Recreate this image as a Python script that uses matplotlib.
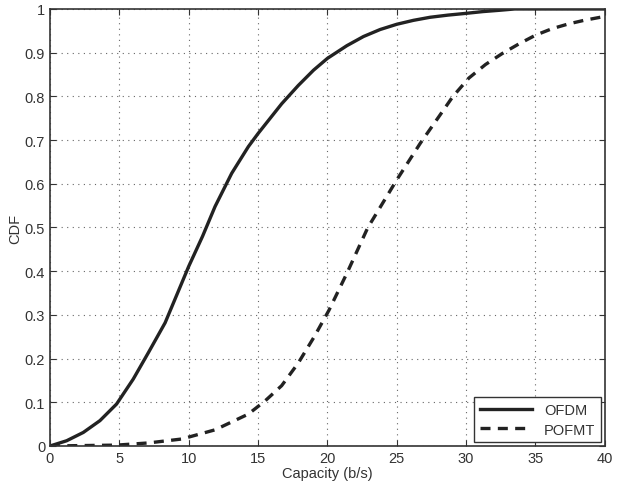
import numpy as np
import matplotlib.pyplot as plt

plt.rcParams['font.family'] = ['Liberation Sans', 'DejaVu Sans']

# OFDM capacity CDF
ofdm_x = [0, 1.2, 2.4, 3.6, 4.8, 6.0, 7.1, 8.3, 9.5, 10.0, 11.0, 11.9, 13.1,
          14.3, 15.0, 16.0, 16.7, 17.9, 19.0, 20.0, 21.4, 22.6, 23.8, 25.0,
          26.2, 27.4, 28.7, 30.0, 31.2, 32.4, 33.5, 40.0]
ofdm_y = [0.0, 0.012, 0.031, 0.058, 0.096, 0.153, 0.214, 0.282, 0.373, 0.411,
          0.48, 0.548, 0.624, 0.685, 0.715, 0.755, 0.783, 0.825, 0.86, 0.887,
          0.916, 0.937, 0.953, 0.965, 0.974, 0.981, 0.986, 0.99, 0.994, 0.997,
          1.0, 1.0]

# POFMT capacity CDF
pofmt_x = [0, 4.8, 7.1, 9.5, 11.9, 14.3, 15.5, 16.7, 17.9, 19.05, 20.1, 21.4,
           22.9, 25.0, 26.7, 28.0, 29.05, 30.2, 31.4, 32.6, 33.8, 35.0, 36.2,
           37.4, 38.5, 39.5, 40.0]
pofmt_y = [0.0, 0.002, 0.007, 0.016, 0.037, 0.073, 0.103, 0.138, 0.19, 0.25,
           0.31, 0.395, 0.499, 0.609, 0.693, 0.752, 0.80, 0.842, 0.873, 0.898,
           0.92, 0.94, 0.955, 0.966, 0.974, 0.98, 0.983]

fig = plt.figure(figsize=(6.21, 4.89), dpi=100)
ax = fig.add_axes([0.0805, 0.0859, 0.8935, 0.8937])

ax.plot(ofdm_x, ofdm_y, color='#222222', lw=2.4, label='OFDM')
ax.plot(pofmt_x, pofmt_y, color='#222222', lw=2.4, ls=(0, (3, 2.2)), label='POFMT')

ax.set_xlim(0, 40)
ax.set_ylim(0, 1)
ax.set_xticks(np.arange(0, 41, 5))
ax.set_yticks(np.arange(0, 1.01, 0.1))
ax.set_yticklabels(['0'] + ['%.1f' % v for v in np.arange(0.1, 0.95, 0.1)] + ['1'])
ax.grid(True, ls=(0, (1, 4)), color='#666666', lw=0.8)
ax.tick_params(direction='in', top=True, right=True, labelsize=10.5,
               colors='#333333', length=4)
for s in ax.spines.values():
    s.set_color('#333333')
    s.set_linewidth(1.2)

ax.set_xlabel('Capacity (b/s)', fontsize=10.5, color='#333333', labelpad=1)
ax.set_ylabel('CDF', fontsize=10.5, color='#333333', labelpad=2)

leg = ax.legend(loc='lower right', fontsize=10.5, fancybox=False,
                framealpha=1, edgecolor='#333333', handlelength=3.6,
                borderaxespad=0.25, labelspacing=0.4)
leg.get_frame().set_linewidth(1.0)
for t in leg.get_texts():
    t.set_color('#333333')

fig.savefig('out.png', dpi=100)
